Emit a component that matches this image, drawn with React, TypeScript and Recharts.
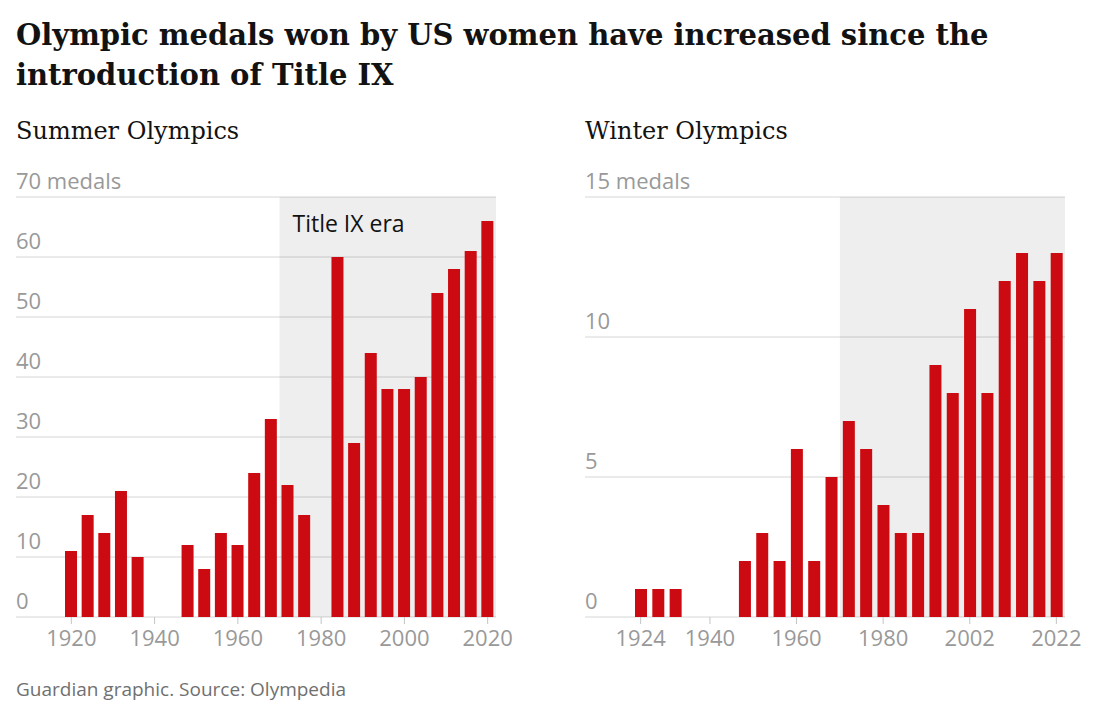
import { Bar, BarChart, CartesianGrid, ReferenceArea, XAxis, YAxis } from 'recharts';

// Summer games, every four years (null = games not held / boycotted)
const summerYears = [
  1920, 1924, 1928, 1932, 1936, 1940, 1944, 1948, 1952, 1956, 1960, 1964, 1968,
  1972, 1976, 1980, 1984, 1988, 1992, 1996, 2000, 2004, 2008, 2012, 2016, 2020,
];
const summerMedals = [
  11, 17, 14, 21, 10, null, null, 12, 8, 14, 12, 24, 33,
  22, 17, null, 60, 29, 44, 38, 38, 40, 54, 58, 61, 66,
];
const summerTickYears = [1920, 1940, 1960, 1980, 2000, 2020];
const summerYTicks = [0, 10, 20, 30, 40, 50, 60, 70];

const winterYears = [
  1924, 1928, 1932, 1936, 1940, 1944, 1948, 1952, 1956, 1960, 1964, 1968, 1972,
  1976, 1980, 1984, 1988, 1992, 1998, 2002, 2006, 2010, 2014, 2018, 2022,
];
const winterMedals = [
  1, 1, 1, null, null, null, 2, 3, 2, 6, 2, 5, 7,
  6, 4, 3, 3, 9, 8, 11, 8, 12, 13, 12, 13,
];
const winterTickYears = [1924, 1940, 1960, 1980, 2002, 2022];
const winterYTicks = [0, 5, 10, 15];

const RED = '#cc0a11';
const SANS = '"Open Sans", "Noto Sans", sans-serif';
const SERIF = '"DejaVu Serif", serif';

function XTick({ x, y, payload, labels }: any) {
  if (!labels.includes(payload.value)) return null;
  return (
    <g>
      <line x1={x} x2={x} y1={y - 13} y2={y - 6} stroke="#c4c4c4" />
      <text x={x} y={y} dy="0.71em" textAnchor="middle" fill="#999" fontSize={22} fontFamily={SANS}>
        {payload.value}
      </text>
    </g>
  );
}

function YTick({ y, payload, max }: any) {
  return (
    <text x={0} y={y - 8} fill="#999" fontSize={22} fontFamily={SANS}>
      {payload.value === max ? `${payload.value} medals` : payload.value}
    </text>
  );
}

function EraLabel({ viewBox, text }: any) {
  if (!viewBox || !text) return null;
  return (
    <text x={viewBox.x + 13} y={viewBox.y + 35} fill="#121212" fontSize={23} fontFamily={SANS}>
      {text}
    </text>
  );
}

function Panel({ years, medals, tickYears, yTicks, eraEnd, eraText }: any) {
  const data = years.map((year: number, i: number) => ({ year, medals: medals[i] }));
  const max = yTicks[yTicks.length - 1];
  return (
    <BarChart width={510} height={500} data={data} margin={{ top: 37, right: 30, bottom: 0, left: 0 }}>
      <ReferenceArea
        x1={1972}
        x2={eraEnd}
        fill="#000"
        fillOpacity={0.065}
        stroke="none"
        label={<EraLabel text={eraText} />}
      />
      <CartesianGrid vertical={false} stroke="#d6d6d6" />
      <XAxis
        dataKey="year"
        interval={0}
        padding={{ left: 47, right: 0 }}
        height={43}
        tickSize={7}
        tickMargin={6}
        axisLine={false}
        tickLine={false}
        tick={<XTick labels={tickYears} />}
      />
      <YAxis
        mirror
        width={60}
        domain={[0, max]}
        ticks={yTicks}
        interval={0}
        axisLine={false}
        tickLine={false}
        tick={<YTick max={max} />}
      />
      <Bar dataKey="medals" fill={RED} barSize={12} isAnimationActive={false} />
    </BarChart>
  );
}

export default function App() {
  return (
    <div style={{ position: 'relative', width: 1100, height: 700, color: '#121212', fontFamily: SANS }}>
      <div
        style={{
          position: 'absolute',
          left: 8,
          top: 7,
          fontFamily: SERIF,
          fontWeight: 700,
          fontSize: 29,
          lineHeight: '40px',
          whiteSpace: 'nowrap',
        }}
      >
        <div>Olympic medals won by US women have increased since the</div>
        <div>introduction of Title IX</div>
      </div>

      <div style={{ position: 'absolute', left: 8, top: 108, fontFamily: SERIF, fontSize: 24, lineHeight: '30px' }}>
        Summer Olympics
      </div>
      <div style={{ position: 'absolute', left: 577, top: 108, fontFamily: SERIF, fontSize: 24, lineHeight: '30px' }}>
        Winter Olympics
      </div>

      <div style={{ position: 'absolute', left: 8, top: 152 }}>
        <Panel
          years={summerYears}
          medals={summerMedals}
          tickYears={summerTickYears}
          yTicks={summerYTicks}
          eraEnd={2020}
          eraText="Title IX era"
        />
      </div>
      <div style={{ position: 'absolute', left: 577, top: 152 }}>
        <Panel
          years={winterYears}
          medals={winterMedals}
          tickYears={winterTickYears}
          yTicks={winterYTicks}
          eraEnd={2022}
        />
      </div>

      <div style={{ position: 'absolute', left: 8, top: 669, fontSize: 19, lineHeight: '24px', color: '#707070' }}>
        Guardian graphic. Source: Olympedia
      </div>
    </div>
  );
}
